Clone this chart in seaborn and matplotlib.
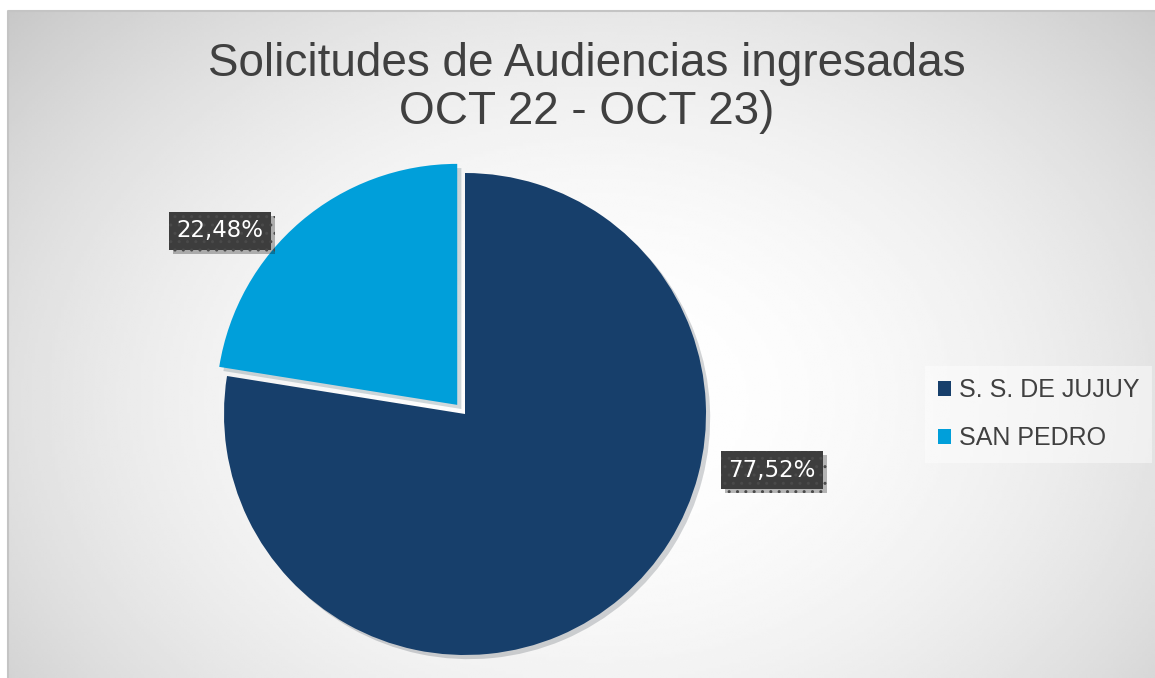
import numpy as np
import matplotlib
matplotlib.use("Agg")
import matplotlib.pyplot as plt
import matplotlib.patheffects as pe
from matplotlib.patches import Patch
import seaborn as sns

# data
regions = ["S. S. DE JUJUY", "SAN PEDRO"]
shares = [77.52, 22.48]
pct_labels = ["77,52%", "22,48%"]
title_lines = ["Solicitudes de Audiencias ingresadas", "OCT 22 - OCT 23)"]

colors = ["#173F6B", "#009FDA"]
text_gray = "#404040"

sns.set_theme(style="white")
plt.rcParams["font.family"] = ["Liberation Sans", "DejaVu Sans"]

W, H = 1155, 678
fig = plt.figure(figsize=(W / 100, H / 100), dpi=100)
ax = fig.add_axes([0, 0, 1, 1])

# radial gray background inside the chart frame
x0, top = 8, 11
xs = np.linspace(x0, W, 400)
ys = np.linspace(top, H, 240)
gx, gy = np.meshgrid(xs, ys)
d2 = ((gx - 600) / 700) ** 2 + ((gy - 400) / 520) ** 2
val = np.clip(1 - 0.17 * d2, 0, 1)
ax.imshow(val, cmap="gray", vmin=0, vmax=1, extent=(x0, W, 0, H - top),
          origin="upper", interpolation="bilinear", zorder=0, aspect="auto")
ax.plot([x0, x0, W], [0, H - top, H - top], color="#c4c4c4", lw=1.5, zorder=1)

# pie, centred at pixel (465, 414), radius 241; light slice pulled out ~12 px
cx, cy, r = 465, H - 414, 241
wedges, _ = ax.pie(shares, colors=colors, startangle=90, counterclock=False,
                   center=(cx, cy), radius=r, explode=[0, 12],
                   wedgeprops=dict(linewidth=0))
for w in wedges:
    w.set_zorder(3)
    w.set_path_effects([pe.SimplePatchShadow(offset=(3, -3), alpha=0.18),
                        pe.Normal()])

# data labels
label_pos = [(772, H - 470), (220, H - 231)]
for (lx, ly), txt in zip(label_pos, pct_labels):
    t = ax.text(lx, ly, txt, ha="center", va="center", color="white",
                fontsize=16.5, family=["DejaVu Sans"], zorder=5,
                bbox=dict(boxstyle="square,pad=0.33", facecolor="#3d3d3d",
                          edgecolor="#4a4a4a", linewidth=0, hatch=".."))
    t.get_bbox_patch().set_path_effects(
        [pe.SimplePatchShadow(offset=(3, -3), alpha=0.3), pe.Normal()])

# title
ax.text(587, H - 64, title_lines[0], ha="center", va="center",
        fontsize=33, color=text_gray, zorder=5)
ax.text(587, H - 112, title_lines[1], ha="center", va="center",
        fontsize=33, color=text_gray, zorder=5)

# legend
handles = [Patch(facecolor=c, edgecolor="none") for c in colors]
leg = ax.legend(handles, regions, loc="upper left",
                bbox_to_anchor=(925 / W, 1 - 366 / H), frameon=True,
                fontsize=18, handlelength=0.55, handleheight=0.55,
                handletextpad=0.3, labelspacing=0.95, borderpad=0.5,
                borderaxespad=0, labelcolor=text_gray)
leg.get_frame().set_facecolor("white")
leg.get_frame().set_alpha(0.45)
leg.get_frame().set_edgecolor("none")
leg.get_frame().set_boxstyle("square", pad=0)

ax.set_xlim(0, W)
ax.set_ylim(0, H)
ax.set_axis_off()

fig.savefig("out.png", dpi=100, facecolor="white")
